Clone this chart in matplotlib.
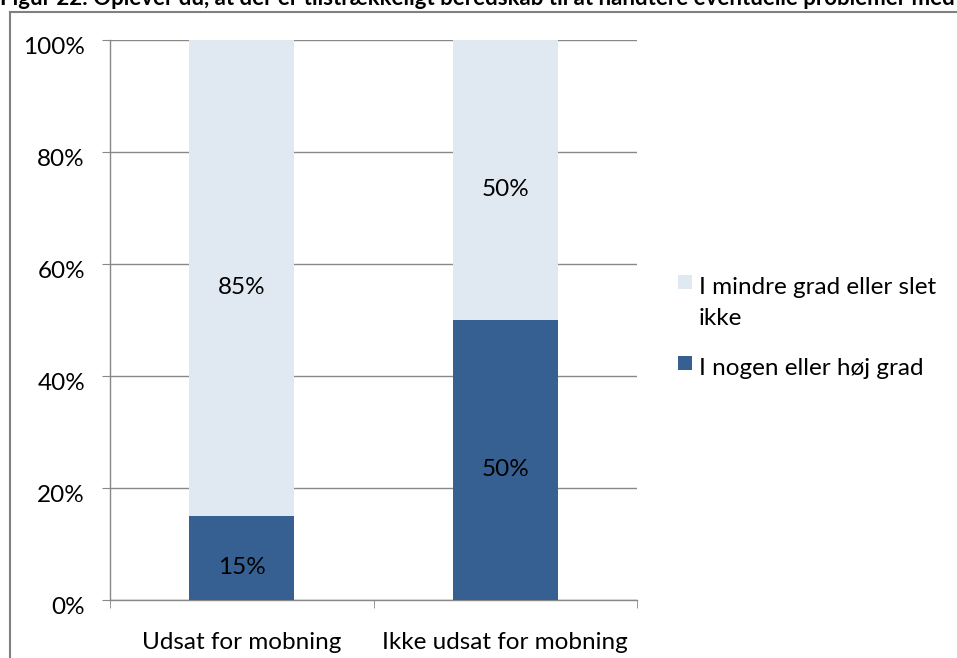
import numpy as np
import matplotlib
matplotlib.use("Agg")
import matplotlib.pyplot as plt
import matplotlib.transforms as mtransforms
from matplotlib.lines import Line2D
from matplotlib.patches import Rectangle

# data
categories = ["Udsat for mobning", "Ikke udsat for mobning"]
hoej_grad = [15, 50]      # I nogen eller høj grad
mindre_grad = [85, 50]    # I mindre grad eller slet ikke
series_labels = ["I mindre grad eller slet\nikke", "I nogen eller høj grad"]
yticks = [0, 20, 40, 60, 80, 100]
title = ("Figur 22: Oplever du, at der er tilstrækkeligt beredskab til at "
         "håndtere eventuelle problemer med mobning?")

DARK = "#376092"
LIGHT = "#e0e8f2"
GRID = "#888888"
FS = 17.5

plt.rcParams["font.family"] = ["Lato", "DejaVu Sans"]

W, H = 957, 658
fig = plt.figure(figsize=(W / 100, H / 100), dpi=100)

# plot area (pixels)
x0, x1, ytop, ybot = 110, 637, 40, 600
ax = fig.add_axes([x0 / W, 1 - ybot / H, (x1 - x0) / W, (ybot - ytop) / H])

x = np.arange(len(categories))
ax.bar(x, hoej_grad, width=0.4, color=DARK, zorder=3)
ax.bar(x, mindre_grad, width=0.4, bottom=hoej_grad, color=LIGHT, zorder=3)

# value labels in the middle of each segment, nudged a bit down
for i in range(len(categories)):
    for val, base in [(hoej_grad[i], 0), (mindre_grad[i], hoej_grad[i])]:
        ax.annotate(f"{val}%", (x[i], base + val / 2), xytext=(0, -5.5),
                    textcoords="offset points", ha="center", va="center_baseline",
                    fontsize=FS, color="black", zorder=4)

ax.set_xlim(-0.5, len(categories) - 0.5)
ax.set_ylim(0, 100)
ax.set_yticks(yticks)
ax.set_yticklabels([f"{v}%" for v in yticks], fontsize=FS)
ax.yaxis.grid(True, color=GRID, lw=1, zorder=0)

ax.set_xticks(x)
ax.set_xticklabels(categories, fontsize=FS)
ax.set_xticks(np.arange(-0.5, len(categories)), minor=True)
ax.tick_params(axis="x", which="major", length=0, pad=23)
ax.tick_params(axis="x", which="minor", length=6, color=GRID, direction="out")
ax.tick_params(axis="y", length=6, color=GRID, pad=12)

shift = mtransforms.ScaledTranslation(0, -4 / 72, fig.dpi_scale_trans)
for lab in ax.get_yticklabels():
    lab.set_transform(lab.get_transform() + shift)

for s in ["top", "right"]:
    ax.spines[s].set_visible(False)
for s in ["left", "bottom"]:
    ax.spines[s].set_color(GRID)
    ax.spines[s].set_linewidth(1)

# legend: square keys with the label text to the right (first line level with key)
key_tops = [275, 356]
text_tops = [277, 358]
for col, lab, kt, tt in zip([LIGHT, DARK], series_labels, key_tops, text_tops):
    fig.add_artist(Rectangle((678 / W, 1 - (kt + 14) / H), 14 / W, 14 / H,
                             facecolor=col, edgecolor="none",
                             transform=fig.transFigure))
    fig.text(699 / W, 1 - tt / H, lab, ha="left", va="top", fontsize=FS,
             linespacing=1.6, color="black")

# chart frame
fig.add_artist(Line2D([10 / W, 10 / W], [0, 1 - 12 / H], color="#808080", lw=1.5,
                      transform=fig.transFigure))
fig.add_artist(Line2D([10 / W, 1], [1 - 12 / H, 1 - 12 / H], color="#808080", lw=1.5,
                      transform=fig.transFigure))

# heading, runs past the top and right edge
fig.text(0, 1 - 5 / H, title, ha="left", va="baseline", fontsize=16,
         fontweight="bold", color="black")

fig.savefig("out.png", dpi=100)
